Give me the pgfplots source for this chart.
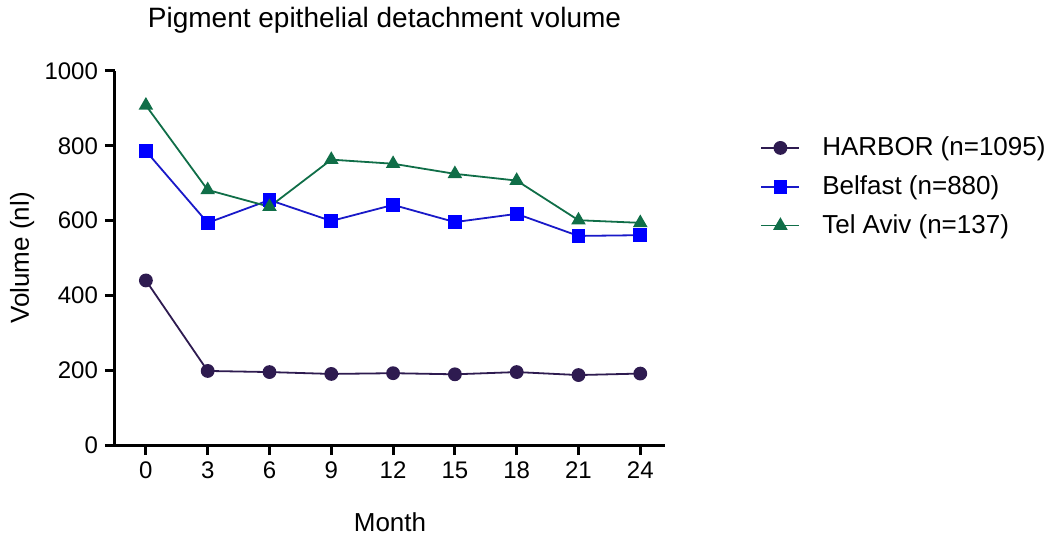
\documentclass[border=0pt]{standalone}
\usepackage{fontspec}
\setmainfont{Liberation Sans}
\usepackage{pgfplots}
\pgfplotsset{compat=1.18}
\definecolor{harbor}{RGB}{46,27,80}
\definecolor{belfast}{RGB}{0,0,255}
\definecolor{belfastline}{RGB}{25,25,200}
\definecolor{telaviv}{RGB}{16,110,72}
\begin{document}
\begin{tikzpicture}
\path[use as bounding box] (-57.5pt,-48pt) rectangle (467.5pt,222.5pt);
\begin{axis}[
  at={(0,0)}, anchor=south west,
  scale only axis, width=275pt, height=187pt,
  axis lines=left,
  axis line style={line width=1.5pt, -},
  xmin=-1.5, xmax=25.2, ymin=0, ymax=1000,
  xtick={0,3,...,24}, ytick={0,200,...,1000},
  tick style={line width=1.5pt, black},
  tick align=outside, major tick length=5pt,
  /pgf/number format/assume math mode=true,
  /pgf/number format/1000 sep={},
  tick label style={font=\fontsize{12}{14}\selectfont},
  xlabel={Month}, ylabel={Volume (nl)},
  xlabel style={font=\fontsize{13}{15}\selectfont, at={(axis description cs:0.5,-0.206)}, anchor=center},
  ylabel style={font=\fontsize{13}{15}\selectfont, at={(axis description cs:-0.169,0.5)}, anchor=center},
  title={Pigment epithelial detachment volume},
  title style={font=\fontsize{14}{16}\selectfont, at={(axis description cs:0.49,1.104)}, anchor=center},
  legend style={at={(1.162,0.846)}, anchor=north west, draw=none, fill=none,
    font=\fontsize{13}{15}\selectfont, row sep=4.5pt,
    /tikz/every odd column/.append style={column sep=9pt}},
  legend cell align=left,
  legend image code/.code={\draw[mark repeat=2,mark phase=2,#1] plot coordinates {(0pt,0pt) (9.5pt,0pt) (19pt,0pt)};},
  clip=false,
]
\addplot[color=harbor, line width=0.9pt, mark=*, mark size=3pt, mark options={fill=harbor, draw=harbor}]
  coordinates {(0,440) (3,198) (6,195) (9,190) (12,192) (15,189) (18,195) (21,187) (24,191)};
\addlegendentry{HARBOR (n=1095)}
\addplot[color=belfastline, line width=0.9pt, mark=square*, mark size=3pt, mark options={fill=belfast, draw=belfast}]
  coordinates {(0,786) (3,594) (6,655) (9,599) (12,642) (15,596) (18,618) (21,559) (24,561)};
\addlegendentry{Belfast (n=880)}
\addplot[color=telaviv, line width=0.9pt, mark=triangle*, mark size=3.3pt, mark options={fill=telaviv, draw=telaviv}]
  coordinates {(0,908) (3,682) (6,637) (9,763) (12,752) (15,725) (18,707) (21,601) (24,594)};
\addlegendentry{Tel Aviv (n=137)}
\end{axis}
\end{tikzpicture}
\end{document}
